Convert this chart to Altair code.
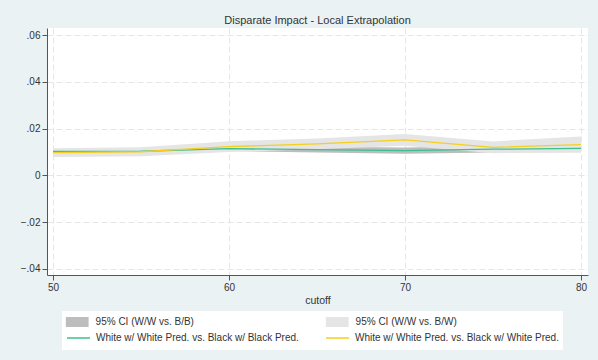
import altair as alt
import pandas as pd

cutoff = [50, 55, 60, 65, 70, 75, 80]
est_bb = [0.0102, 0.0103, 0.0114, 0.0110, 0.0106, 0.0112, 0.0115]
ci_bb_lo = [0.0094, 0.0094, 0.0104, 0.0098, 0.0092, 0.0098, 0.0100]
ci_bb_hi = [0.0110, 0.0112, 0.0124, 0.0122, 0.0119, 0.0126, 0.0130]
est_bw = [0.0097, 0.0101, 0.0123, 0.0135, 0.0152, 0.0120, 0.0131]
ci_bw_lo = [0.0078, 0.0082, 0.0100, 0.0112, 0.0127, 0.0095, 0.0097]
ci_bw_hi = [0.0116, 0.0120, 0.0146, 0.0158, 0.0177, 0.0145, 0.0166]

ci_names = ["95% CI (W/W vs. B/B)", "95% CI (W/W vs. B/W)"]
line_names = [
    "White w/ White Pred. vs. Black w/ Black Pred.",
    "White w/ White Pred. vs. Black w/ White Pred.",
]
ci_colors = ["#bdbdbd", "#e5e5e5"]
line_colors = ["#3cbf8f", "#f5cf1e"]
y_ticks = [-0.04, -0.02, 0.0, 0.02, 0.04, 0.06]
x_ticks = [50, 60, 70, 80]

FONT = "Liberation Sans"

band_rows = []
for c, lo, hi in zip(cutoff, ci_bb_lo, ci_bb_hi):
    band_rows.append({"cutoff": c, "lo": lo, "hi": hi, "series": ci_names[0]})
for c, lo, hi in zip(cutoff, ci_bw_lo, ci_bw_hi):
    band_rows.append({"cutoff": c, "lo": lo, "hi": hi, "series": ci_names[1]})
line_rows = []
for c, v in zip(cutoff, est_bb):
    line_rows.append({"cutoff": c, "est": v, "series": line_names[0]})
for c, v in zip(cutoff, est_bw):
    line_rows.append({"cutoff": c, "est": v, "series": line_names[1]})
bands = pd.DataFrame(band_rows)
lines = pd.DataFrame(line_rows)

common_legend = dict(
    orient="none",
    columns=2,
    rowPadding=0,
    clipHeight=16,
    symbolSize=529,
    labelFont=FONT,
    labelFontSize=10,
    labelColor="#333333",
    labelLimit=400,
)

legend_ci = alt.Legend(
    title=None,
    legendX=18.6,
    legendY=286,
    columnPadding=131,
    symbolType="M-1,-0.43H1V0.43H-1Z",
    symbolStrokeWidth=0,
    labelOffset=7,
    padding=0,
    zindex=2,
    **common_legend,
)
legend_line = alt.Legend(
    title=" ",
    titleFontSize=10,
    titlePadding=5,
    legendX=15,
    legendY=283,
    columnPadding=26,
    symbolType="stroke",
    symbolStrokeWidth=1.5,
    labelOffset=5,
    fillColor="white",
    padding=4,
    zindex=1,
    **common_legend,
)

x_enc = alt.X(
    "cutoff:Q",
    scale=alt.Scale(domain=[49.659, 80.398], nice=False, zero=False),
    axis=alt.Axis(values=x_ticks, format="d", title="cutoff"),
)
y_scale = alt.Scale(domain=[-0.0426, 0.063], nice=False, zero=False)
y_axis = alt.Axis(
    values=y_ticks,
    title=None,
    labelExpr="datum.value == 0 ? '0' : replace(format(datum.value, '.2f'), '0.', '.')",
)

area = alt.Chart(bands).mark_area(opacity=1).encode(
    x=x_enc,
    y=alt.Y("lo:Q", scale=y_scale, axis=y_axis, stack=None),
    y2="hi:Q",
    fill=alt.Fill("series:N", scale=alt.Scale(domain=ci_names, range=ci_colors), legend=legend_ci),
)
line = alt.Chart(lines).mark_line(strokeWidth=1.3).encode(
    x=x_enc,
    y=alt.Y("est:Q", scale=y_scale, axis=y_axis),
    stroke=alt.Stroke("series:N", scale=alt.Scale(domain=line_names, range=line_colors), legend=legend_line),
)

chart = (
    alt.layer(area, line)
    .resolve_scale(y="shared")
    .properties(
        width=541,
        height=247,
        autosize=alt.AutoSizeParams(type="none"),
        padding={"left": 47, "top": 28, "right": 10, "bottom": 85},
        background="#eaf2f3",
        title=alt.TitleParams(
            "Disparate Impact - Local Extrapolation",
            font=FONT,
            fontSize=11,
            fontWeight="normal",
            color="#333333",
            anchor="middle",
            baseline="bottom",
            offset=-9,
        ),
    )
    .configure_view(fill="white", stroke=None)
    .configure_axis(
        labelFont=FONT,
        labelFontSize=10,
        labelColor="#333333",
        titleFont=FONT,
        titleFontSize=10.5,
        titleFontWeight="normal",
        titleColor="#333333",
        domainColor="#555555",
        tickColor="#555555",
        tickSize=5,
        labelPadding=2,
        grid=True,
        gridColor="#e6e6e6",
        gridDash=[6, 3],
        gridWidth=1,
    )
    .configure_axisX(titlePadding=3, labelFlush=False)
    .configure_axisY(labelFlush=False)
)

chart.save("out.html", embed_options={"renderer": "svg", "actions": False})
